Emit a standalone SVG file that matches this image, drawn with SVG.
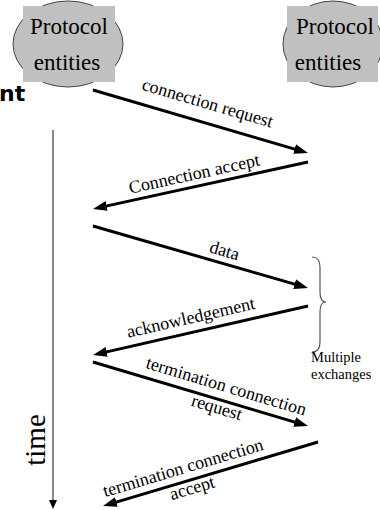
<svg xmlns="http://www.w3.org/2000/svg" width="380" height="510" viewBox="0 0 380 510">
<defs>
<marker id="ah" markerUnits="userSpaceOnUse" markerWidth="14" markerHeight="10" viewBox="0 0 14 10" refX="9" refY="5" orient="auto">
<path d="M0,0 L14,5 L0,10 z" fill="#000"/>
</marker>
<marker id="th" markerUnits="userSpaceOnUse" markerWidth="9" markerHeight="8" viewBox="0 0 9 8" refX="3" refY="4" orient="auto">
<path d="M0,0 L9,4 L0,8 z" fill="#000"/>
</marker>
</defs>
<style>
.ent{fill:#c0c0c0;stroke:#333;stroke-width:0.9}
.box{fill:#c0c0c0}
.pt{font-family:"Liberation Serif","Times New Roman",serif;font-size:23px;fill:#000;text-anchor:middle}
.msg{stroke:#000;stroke-width:3;fill:none;marker-end:url(#ah)}
.lb{font-family:"Liberation Serif","Times New Roman",serif;font-size:18px;fill:#000;text-anchor:middle}
.sm{font-family:"Liberation Serif","Times New Roman",serif;font-size:14.5px;fill:#000}
</style>
<rect width="380" height="510" fill="#fff"/>
<text x="-1" y="101" font-family="'DejaVu Sans',Verdana,sans-serif" font-weight="bold" font-size="22" fill="#000">nt</text>
<g id="entity-left">
<ellipse class="ent" cx="68" cy="44" rx="55" ry="43"/>
<rect class="box" x="23" y="6" width="92" height="76"/>
<text class="pt" x="69" y="34">Protocol</text>
<text class="pt" x="67" y="70">entities</text>
</g>
<g id="entity-right">
<ellipse class="ent" cx="333" cy="44" rx="50" ry="43"/>
<rect class="box" x="287" y="6" width="91" height="76"/>
<text class="pt" x="335" y="34">Protocol</text>
<text class="pt" x="328" y="70">entities</text>
</g>
<g id="time-axis">
<line x1="53" y1="130" x2="53" y2="503" stroke="#888" stroke-width="2" marker-end="url(#th)"/>
<text transform="translate(45,440) rotate(-90)" font-family="'Liberation Serif','Times New Roman',serif" font-size="29" text-anchor="middle">time</text>
</g>
<g id="connectors">
<line class="msg" x1="93" y1="90" x2="303.2" y2="151.6"/>
<line class="msg" x1="308" y1="162" x2="97.9" y2="207.9"/>
<line class="msg" x1="93" y1="226" x2="303.2" y2="286.6"/>
<line class="msg" x1="308" y1="306" x2="97.9" y2="353.9"/>
<line class="msg" x1="93" y1="362" x2="303.2" y2="424.6"/>
<line class="msg" x1="318" y1="442" x2="107.8" y2="504.6"/>
</g>
<g id="labels">
<text class="lb" transform="translate(202,122) rotate(16.3)" y="-14">connection request</text>
<text class="lb" transform="translate(197,186.3) rotate(-12.3)" y="-7">Connection accept</text>
<text class="lb" transform="translate(221,263) rotate(16.1)" y="-7">data</text>
<text class="lb" transform="translate(194,332) rotate(-12.8)" y="-9">acknowledgement</text>
<text class="lb" transform="translate(222,400.4) rotate(16.7)"><tspan x="0" y="-9">termination connection</tspan><tspan x="-3" y="14">request</tspan></text>
<text class="lb" transform="translate(187,481) rotate(-16.6)"><tspan x="0" y="-8">termination connection</tspan><tspan x="3" y="14">accept</tspan></text>
</g>
<g id="brace">
<path d="M312,257 Q320,257 320,267 L320,292 Q320,302 326,302 Q320,302 320,312 L320,342 Q320,352 312,352" fill="none" stroke="#555" stroke-width="1.2"/>
<text class="sm" x="311" y="362">Multiple</text>
<text class="sm" x="311" y="379">exchanges</text>
</g>
</svg>
